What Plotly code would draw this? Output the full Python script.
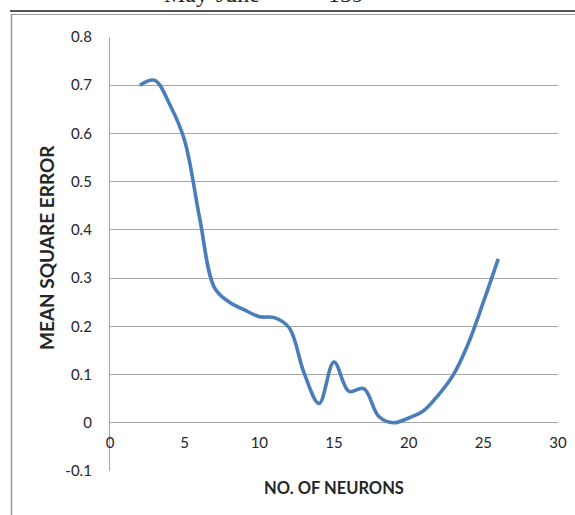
import plotly.graph_objects as go

# Network size vs. training error
neurons = [2, 3, 4, 5, 6, 7, 8, 9, 10, 11, 12, 13, 14, 15, 16, 17, 18, 19, 20, 21, 22, 23, 24, 25, 26]
mse = [0.70, 0.71, 0.66, 0.585, 0.425, 0.28, 0.25, 0.234, 0.22, 0.218, 0.197, 0.103, 0.04, 0.126,
       0.065, 0.071, 0.013, 0.0, 0.01, 0.025, 0.058, 0.10, 0.165, 0.25, 0.34]

x_ticks = [0, 5, 10, 15, 20, 25, 30]
y_ticks = [-0.1, 0, 0.1, 0.2, 0.3, 0.4, 0.5, 0.6, 0.7, 0.8]

FONT = "Lato"
GRID = "#a6a6a6"
W, H = 575, 515
L, R, T, B = 110, 17, 37, 44
PW, PH = W - L - R, H - T - B


def px(xp):
    return (xp - L) / PW


def py(yp):
    return (H - B - yp) / PH


fig = go.Figure()
fig.add_trace(go.Scatter(
    x=neurons, y=mse, mode="lines",
    line=dict(color="#4a7ebb", width=3.6, shape="spline", smoothing=1.0),
    showlegend=False, hoverinfo="skip",
))

fig.update_layout(
    width=W, height=H,
    margin=dict(l=L, r=R, t=T, b=B, autoexpand=False),
    paper_bgcolor="white", plot_bgcolor="white",
    font=dict(family=FONT, color="#262626"),
    xaxis=dict(
        range=[0, 30], tickvals=x_ticks, ticktext=[str(v) for v in x_ticks],
        showgrid=False, zeroline=False, showline=False,
        # horizontal axis crosses the value axis at 0
        anchor="free", position=(0 - (-0.1)) / 0.9,
        ticks="outside", ticklen=6, tickcolor="rgba(0,0,0,0)",
        tickfont=dict(size=15, family=FONT, color="#262626"),
        automargin=False,
    ),
    yaxis=dict(
        range=[-0.1, 0.8], tickvals=y_ticks,
        ticktext=["-0.1", "0", "0.1", "0.2", "0.3", "0.4", "0.5", "0.6", "0.7", "0.8"],
        showgrid=True, gridcolor=GRID, gridwidth=1.3,
        zeroline=False, showline=True, linecolor=GRID, linewidth=1.3,
        ticks="outside", ticklen=14, tickcolor="rgba(0,0,0,0)",
        tickfont=dict(size=15, family=FONT, color="#262626"),
        automargin=False,
    ),
    annotations=[
        dict(text="<b>NO. OF NEURONS</b>", xref="paper", yref="paper",
             x=px(334), y=py(488), showarrow=False,
             font=dict(size=16.5, family=FONT, color="#262626"),
             xanchor="center", yanchor="middle"),
        dict(text="<b>MEAN SQUARE ERROR</b>", xref="paper", yref="paper",
             x=px(47), y=py(248), showarrow=False, textangle=-90,
             font=dict(size=19, family=FONT, color="#262626"),
             xanchor="center", yanchor="middle"),
        dict(text="May-June", xref="paper", yref="paper",
             x=px(212), y=py(-6), showarrow=False,
             font=dict(size=24, family="Liberation Serif", color="#222"),
             xanchor="center", yanchor="middle"),
        dict(text="159", xref="paper", yref="paper",
             x=px(346), y=py(-6), showarrow=False,
             font=dict(size=24, family="Liberation Serif", color="#222"),
             xanchor="center", yanchor="middle"),
    ],
    shapes=[
        # page rule and chart frame
        dict(type="line", xref="paper", yref="paper",
             x0=px(10), x1=px(600), y0=py(11), y1=py(11),
             line=dict(color="#555", width=2)),
        dict(type="line", xref="paper", yref="paper",
             x0=px(11), x1=px(600), y0=py(14.5), y1=py(14.5),
             line=dict(color="#999", width=1.2)),
        dict(type="line", xref="paper", yref="paper",
             x0=px(11.5), x1=px(11.5), y0=py(14.5), y1=py(530),
             line=dict(color="#999", width=1.5)),
    ],
)

fig.write_html("out.html")
